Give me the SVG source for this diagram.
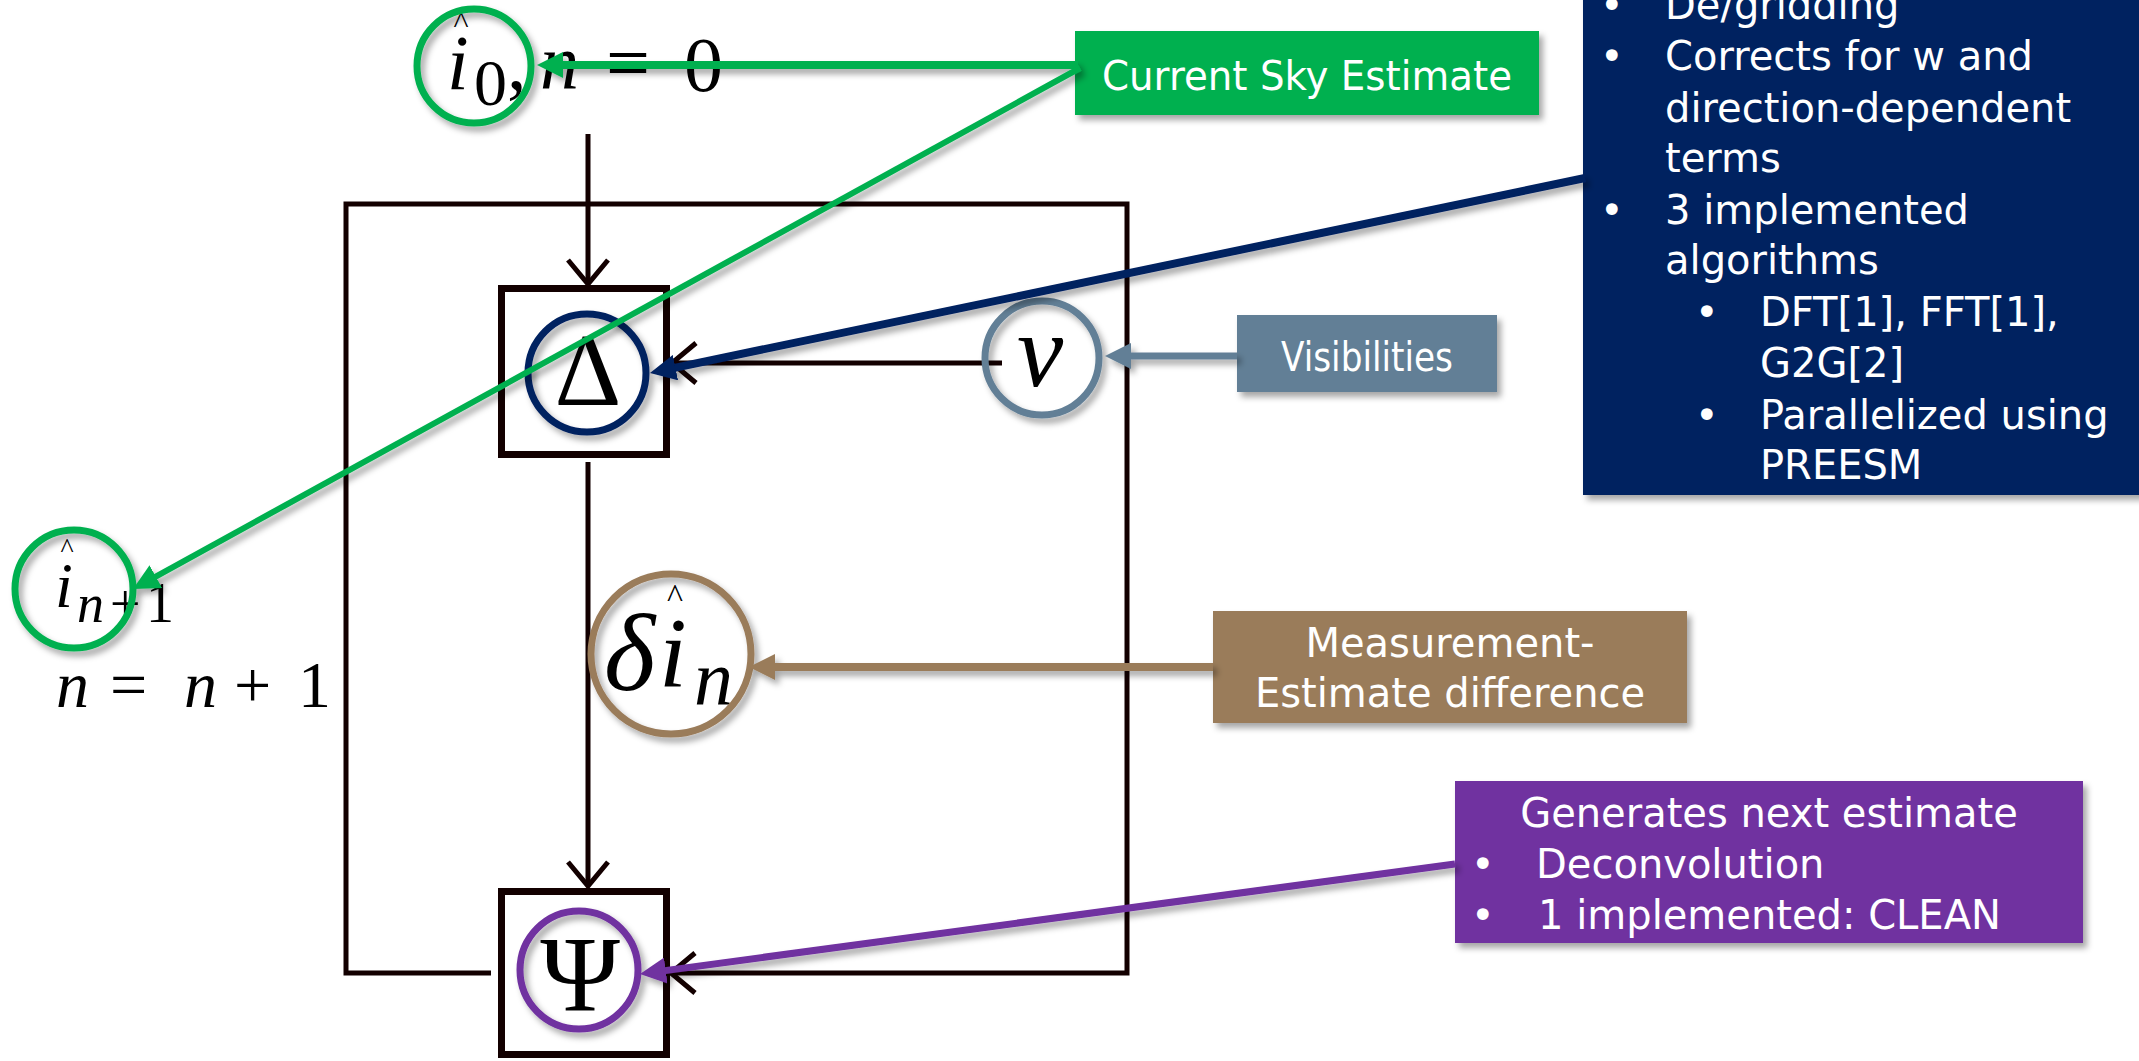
<svg xmlns="http://www.w3.org/2000/svg" width="2139" height="1061" viewBox="0 0 2139 1061">
<style>
.lbl{font-family:"DejaVu Sans","Liberation Sans",sans-serif;fill:#ffffff;font-size:40px}
.m{font-family:"Liberation Serif","DejaVu Serif",serif;fill:#000000}
.it{font-style:italic}
.blk{stroke:#130000;fill:none;stroke-width:5}
.box{stroke:#130000;fill:none;stroke-width:7}
.ring{fill:none;stroke-width:7}
</style>
<defs>
<filter id="sh" x="-20%" y="-20%" width="140%" height="140%">
<feDropShadow dx="4" dy="5" stdDeviation="3" flood-color="#000" flood-opacity="0.35"/>
</filter>
<marker id="chev" markerUnits="userSpaceOnUse" viewBox="-32 -26 40 52" refX="0" refY="0" markerWidth="40" markerHeight="52" orient="auto">
<path d="M-24,-20 L0,0 L-24,20" fill="none" stroke="#130000" stroke-width="5"/>
</marker>
<marker id="aG" markerUnits="userSpaceOnUse" viewBox="0 0 26 26" refX="12" refY="13" markerWidth="26" markerHeight="26" orient="auto"><path d="M0,0 L26,13 L0,26 z" fill="#00b050"/></marker>
<marker id="aN" markerUnits="userSpaceOnUse" viewBox="0 0 26 26" refX="12" refY="13" markerWidth="26" markerHeight="26" orient="auto"><path d="M0,0 L26,13 L0,26 z" fill="#002060"/></marker>
<marker id="aS" markerUnits="userSpaceOnUse" viewBox="0 0 26 26" refX="12" refY="13" markerWidth="26" markerHeight="26" orient="auto"><path d="M0,0 L26,13 L0,26 z" fill="#627f96"/></marker>
<marker id="aB" markerUnits="userSpaceOnUse" viewBox="0 0 26 26" refX="12" refY="13" markerWidth="26" markerHeight="26" orient="auto"><path d="M0,0 L26,13 L0,26 z" fill="#9a7b5a"/></marker>
<marker id="aP" markerUnits="userSpaceOnUse" viewBox="0 0 26 26" refX="12" refY="13" markerWidth="26" markerHeight="26" orient="auto"><path d="M0,0 L26,13 L0,26 z" fill="#7030a0"/></marker>
</defs>
<rect width="2139" height="1061" fill="#ffffff"/>

<g id="flow-connectors">
<path class="blk" d="M491,973 H346 V204 H1127 V973 H671" marker-end="url(#chev)"/>
<line class="blk" x1="588" y1="134" x2="588" y2="284" marker-end="url(#chev)"/>
<line class="blk" x1="1002" y1="363" x2="672" y2="363" marker-end="url(#chev)"/>
<line class="blk" x1="588" y1="462" x2="588" y2="886" marker-end="url(#chev)"/>
</g>

<g id="node-i0">
<text class="m it" x="447" y="89" font-size="78">i</text>
<text class="m" x="461" y="33" font-size="32" text-anchor="middle">^</text>
<text class="m" x="474" y="105" font-size="66">0</text>
<text class="m" x="507" y="89" font-size="78">,</text>
<text class="m it" x="540" y="89" font-size="78">n</text>
<text class="m" x="606" y="89" font-size="78">=</text>
<text class="m" x="684" y="91" font-size="78">0</text>
<circle class="ring" cx="474" cy="66" r="57" stroke="#00b050" filter="url(#sh)"/>
</g>

<g id="node-delta">
<rect class="box" x="501.5" y="288.5" width="165" height="166"/>
<text class="m" x="588" y="405" font-size="104" text-anchor="middle">Δ</text>
<circle class="ring" cx="587" cy="373" r="59" stroke="#002060" filter="url(#sh)"/>
</g>

<g id="node-v">
<text class="m it" x="1017" y="386" font-size="104">v</text>
<circle class="ring" cx="1042" cy="358" r="57" stroke="#627f96" filter="url(#sh)"/>
</g>

<g id="node-in1">
<text class="m it" x="55" y="607" font-size="64">i</text>
<text class="m" x="67" y="557" font-size="28" text-anchor="middle">^</text>
<text class="m it" x="77" y="622" font-size="54">n</text>
<text class="m" x="110" y="622" font-size="54">+</text>
<text class="m" x="146" y="622" font-size="56">1</text>
<circle class="ring" cx="74" cy="589" r="59" stroke="#00b050" filter="url(#sh)"/>
</g>

<g id="node-update">
<text class="m" y="707" font-size="66"><tspan class="it" x="56">n</tspan><tspan x="110">=</tspan><tspan class="it" x="184">n</tspan><tspan x="234">+</tspan><tspan x="298">1</tspan></text>
</g>

<g id="node-delta-in">
<text class="m it" x="604" y="690" font-size="110">δ</text>
<text class="m it" x="659" y="686" font-size="100">i</text>
<text class="m" x="675" y="607" font-size="34" text-anchor="middle">^</text>
<text class="m it" x="694" y="705" font-size="78">n</text>
<circle class="ring" cx="671" cy="654" r="80" stroke="#9a7b5a" filter="url(#sh)"/>
</g>

<g id="node-psi">
<rect class="box" x="501.5" y="891.5" width="165" height="163"/>
<text class="m" x="580" y="1011" font-size="108" text-anchor="middle">Ψ</text>
<circle class="ring" cx="579" cy="970" r="59" stroke="#7030a0" filter="url(#sh)"/>
</g>

<g id="label-sky">
<rect x="1075" y="31" width="464" height="84" fill="#00b050" filter="url(#sh)"/>
<text class="lbl" x="1307" y="90" font-size="39" text-anchor="middle" textLength="410" lengthAdjust="spacingAndGlyphs">Current Sky Estimate</text>
</g>

<g id="label-degrid">
<rect x="1583" y="-30" width="600" height="525" fill="#002060" filter="url(#sh)"/>
<text class="lbl" x="1600" y="19">•</text><text class="lbl" x="1665" y="19">De/gridding</text>
<text class="lbl" x="1600" y="70">•</text><text class="lbl" x="1665" y="70">Corrects for w and</text>
<text class="lbl" x="1665" y="122">direction-dependent</text>
<text class="lbl" x="1665" y="172">terms</text>
<text class="lbl" x="1600" y="224">•</text><text class="lbl" x="1665" y="224">3 implemented</text>
<text class="lbl" x="1665" y="274">algorithms</text>
<text class="lbl" x="1695" y="326">•</text><text class="lbl" x="1760" y="326">DFT[1], FFT[1],</text>
<text class="lbl" x="1760" y="377">G2G[2]</text>
<text class="lbl" x="1695" y="429">•</text><text class="lbl" x="1760" y="429">Parallelized using</text>
<text class="lbl" x="1760" y="479">PREESM</text>
</g>

<g id="label-vis">
<rect x="1237" y="315" width="260" height="77" fill="#627f96" filter="url(#sh)"/>
<text class="lbl" x="1367" y="371" text-anchor="middle" textLength="172" lengthAdjust="spacingAndGlyphs">Visibilities</text>
</g>

<g id="label-diff">
<rect x="1213" y="611" width="474" height="112" fill="#9a7b5a" filter="url(#sh)"/>
<text class="lbl" x="1450" y="657" text-anchor="middle">Measurement-</text>
<text class="lbl" x="1450" y="707" text-anchor="middle">Estimate difference</text>
</g>

<g id="label-clean">
<rect x="1455" y="781" width="628" height="162" fill="#7030a0" filter="url(#sh)"/>
<text class="lbl" x="1769" y="827" text-anchor="middle">Generates next estimate</text>
<text class="lbl" x="1471" y="878">•</text><text class="lbl" x="1536" y="878">Deconvolution</text>
<text class="lbl" x="1471" y="929">•</text><text class="lbl" x="1538" y="929">1 implemented: CLEAN</text>
</g>

<g id="callout-connectors" fill="none" filter="url(#sh)">
<line x1="1078" y1="65" x2="551" y2="65" stroke="#00b050" stroke-width="8" marker-end="url(#aG)"/>
<line x1="1080" y1="68" x2="145.3" y2="582.3" stroke="#00b050" stroke-width="6" marker-end="url(#aG)"/>
<line x1="1585" y1="178" x2="663.7" y2="370.1" stroke="#002060" stroke-width="8" marker-end="url(#aN)"/>
<line x1="1237" y1="356" x2="1119" y2="356" stroke="#627f96" stroke-width="7" marker-end="url(#aS)"/>
<line x1="1213" y1="667" x2="763" y2="667" stroke="#9a7b5a" stroke-width="8" marker-end="url(#aB)"/>
<line x1="1455" y1="864" x2="653.9" y2="972.1" stroke="#7030a0" stroke-width="7" marker-end="url(#aP)"/>
</g>
</svg>
